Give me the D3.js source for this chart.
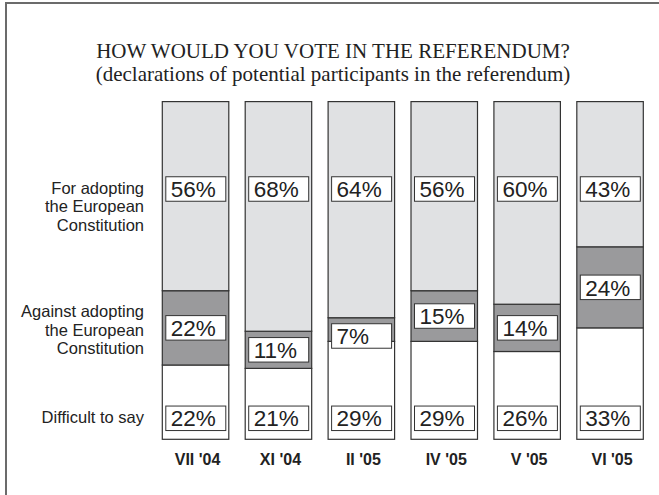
<!DOCTYPE html>
<html>
<head>
<meta charset="utf-8">
<script src="https://cdn.jsdelivr.net/npm/d3@7"></script>
<style>
  html, body { margin: 0; padding: 0; background: #fff; }
  svg { display: block; }
</style>
</head>
<body>
<svg id="chart" width="659" height="495"></svg>
<script>
// Survey waves and declared votes (percent)
const categories = ["VII '04", "XI '04", "II '05", "IV '05", "V '05", "VI '05"];
const forValues = [56, 68, 64, 56, 60, 43];
const againstValues = [22, 11, 7, 15, 14, 24];
const difficultValues = [22, 21, 29, 29, 26, 33];
const seriesKeys = ["difficult", "against", "for"];
const seriesLabels = {
  for: ["For adopting", "the European", "Constitution"],
  against: ["Against adopting", "the European", "Constitution"],
  difficult: ["Difficult to say"]
};
const titleLines = [
  "HOW WOULD YOU VOTE IN THE REFERENDUM?",
  "(declarations of potential participants in the referendum)"
];

const rows = categories.map((c, i) => ({
  category: c,
  for: forValues[i],
  against: againstValues[i],
  difficult: difficultValues[i]
}));

const svg = d3.select("#chart");
const sans = "'Liberation Sans', Arial, Helvetica, sans-serif";
const serif = "'Liberation Serif', 'Times New Roman', Times, serif";
const ink = "#222";
const fills = { for: "#e0e1e3", against: "#9a9a9c", difficult: "#ffffff" };

// outer frame (open to the right and bottom)
svg.append("rect")
  .attr("x", 6).attr("y", 3)
  .attr("width", 700).attr("height", 520)
  .attr("fill", "none")
  .attr("stroke", "#6b6b6b")
  .attr("stroke-width", 2);

// title
svg.append("g").selectAll("text")
  .data(titleLines)
  .join("text")
  .attr("x", 333)
  .attr("y", (d, i) => 58 + i * 23)
  .attr("text-anchor", "middle")
  .attr("font-family", serif)
  .attr("font-size", 21)
  .attr("fill", ink)
  .text(d => d);

const x = d3.scaleBand()
  .domain(categories)
  .range([162.3, 643.3])
  .paddingInner(0.198)
  .paddingOuter(0);

const y = d3.scaleLinear()
  .domain([0, 100])
  .range([439.3, 101.6]);

const stacked = d3.stack().keys(seriesKeys)(rows);

// stacked segments
const seg = svg.append("g");
stacked.forEach(layer => {
  seg.selectAll(null)
    .data(layer)
    .join("rect")
    .attr("x", d => x(d.data.category))
    .attr("y", d => y(d[1]))
    .attr("width", x.bandwidth())
    .attr("height", d => y(d[0]) - y(d[1]))
    .attr("fill", fills[layer.key])
    .attr("stroke", "#333")
    .attr("stroke-width", 1.2);
});

// value boxes
const boxW = 60, boxH = 24.5;
const forRowY = 189, difficultRowY = 418.3;
function boxCenter(layer, d) {
  if (layer.key === "for") return forRowY;
  if (layer.key === "difficult") return difficultRowY;
  const top = y(d[1]), bottom = y(d[0]);
  const mid = (top + bottom) / 2;
  // keep the box clear of the segment's upper edge
  return Math.max(mid, top + 6 + boxH / 2);
}

const labels = svg.append("g");
stacked.forEach(layer => {
  const g = labels.selectAll(null)
    .data(layer)
    .join("g")
    .attr("transform", d => `translate(${x(d.data.category) + 3.5},${boxCenter(layer, d) - boxH / 2})`);
  g.append("rect")
    .attr("width", boxW)
    .attr("height", boxH)
    .attr("fill", "#fff")
    .attr("stroke", "#333")
    .attr("stroke-width", 1);
  g.append("text")
    .attr("x", 5)
    .attr("y", boxH / 2 + 8.2)
    .attr("font-family", sans)
    .attr("font-size", 22.5)
    .attr("fill", ink)
    .text(d => d.data[layer.key] + "%");
});

// category axis
const axis = svg.append("g")
  .attr("transform", "translate(0,465)")
  .call(d3.axisBottom(x).tickSize(0).tickPadding(0));
axis.select(".domain").remove();
axis.selectAll("text")
  .attr("dy", 0)
  .attr("dx", 2)
  .attr("font-family", sans)
  .attr("font-size", 16)
  .attr("font-weight", "bold")
  .attr("fill", ink);

// series labels on the left
const legendBase = { for: 193.5, against: 317, difficult: 423 };
const legend = svg.append("g");
Object.keys(seriesLabels).forEach(k => {
  legend.append("text")
    .attr("text-anchor", "end")
    .attr("font-family", sans)
    .attr("font-size", 16.5)
    .attr("fill", ink)
    .selectAll("tspan")
    .data(seriesLabels[k])
    .join("tspan")
    .attr("x", 144)
    .attr("y", (d, i) => legendBase[k] + i * 18.7)
    .text(d => d);
});
</script>
</body>
</html>
